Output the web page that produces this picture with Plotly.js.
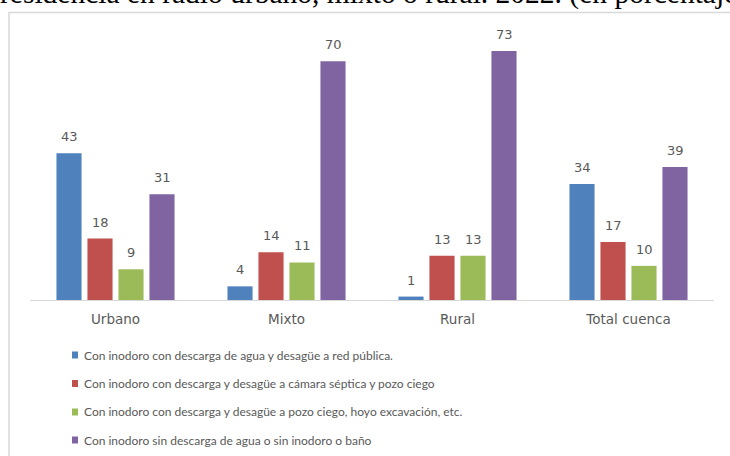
<!DOCTYPE html>
<html>
<head>
<meta charset="utf-8">
<script src="https://cdn.plot.ly/plotly-3.0.1.min.js"></script>
<style>html,body{margin:0;padding:0;background:#fff;}#chart{width:730px;height:456px;}</style>
</head>
<body>
<div id="chart"></div>
<script>
const categories = ['Urbano', 'Mixto', 'Rural', 'Total cuenca'];
const seriesNames = [
  'Con inodoro con descarga de agua y desagüe a red pública.',
  'Con inodoro con descarga y desagüe a cámara séptica y pozo ciego',
  'Con inodoro con descarga y desagüe a pozo ciego, hoyo excavación, etc.',
  'Con inodoro sin descarga de agua o sin inodoro o baño'
];
const redPublica = [43, 4, 1, 34];
const camaraSeptica = [18, 14, 13, 17];
const pozoCiego = [9, 11, 13, 10];
const sinDescarga = [31, 70, 73, 39];
const headerText = 'residencia en radio urbano, mixto o rural. 2022. (en porcentaje)';

const seriesValues = [redPublica, camaraSeptica, pozoCiego, sinDescarga];
const colors = ['#4F81BD', '#C0504D', '#9BBB59', '#8064A2'];

// layout geometry (pixels)
const W = 730, H = 456;
const mL = 30, mR = 16, mT = 27, mB = 156;
const plotW = W - mL - mR, plotH = H - mT - mB;
const px2x = p => (p - mL) / plotW;
const px2y = p => (H - mB - p) / plotH;
const barStep = 31;

const traces = seriesValues.map((vals, i) => ({
  type: 'bar',
  x: categories,
  y: vals,
  name: seriesNames[i],
  marker: {color: colors[i]},
  showlegend: false,
  hoverinfo: 'x+y'
}));

const annotations = [];
seriesValues.forEach((vals, i) => {
  vals.forEach((v, j) => {
    annotations.push({
      x: categories[j], y: v, xref: 'x', yref: 'y',
      xshift: (i - 1.5) * barStep, yshift: 16.5,
      text: String(v), showarrow: false,
      xanchor: 'center', yanchor: 'middle',
      font: {family: 'DejaVu Sans', size: 13, color: '#595959'}
    });
  });
});

// legend (manual, to match the original's compact swatches)
const shapes = [];
const legendRowY = [355, 383.5, 412, 440];
seriesNames.forEach((name, i) => {
  const cy = legendRowY[i];
  shapes.push({
    type: 'rect', xref: 'paper', yref: 'paper',
    x0: px2x(72), x1: px2x(78), y0: px2y(cy + 3.5), y1: px2y(cy - 3.5),
    fillcolor: colors[i], line: {width: 0}
  });
  annotations.push({
    x: px2x(82), y: px2y(cy), xref: 'paper', yref: 'paper',
    text: name, showarrow: false, xanchor: 'left', yanchor: 'middle',
    font: {family: 'Lato', size: 12, color: '#595959'}
  });
});

// outer chart frame
shapes.push({
  type: 'rect', xref: 'paper', yref: 'paper',
  x0: px2x(9), x1: px2x(760), y0: px2y(480), y1: px2y(12.5),
  line: {color: '#d9d9d9', width: 1.5}, fillcolor: 'rgba(0,0,0,0)', layer: 'below'
});

// cut-off header text of the source document (cut at the top edge, as in the original)
annotations.push({
  x: px2x(-2), y: px2y(12), xref: 'paper', yref: 'paper',
  text: headerText, showarrow: false, xanchor: 'left', yanchor: 'bottom',
  font: {family: 'Liberation Serif', size: 29.5, color: '#000'}
});

const layout = {
  width: W, height: H,
  margin: {l: mL, r: mR, t: mT, b: mB, pad: 0},
  paper_bgcolor: '#fff', plot_bgcolor: 'rgba(0,0,0,0)',
  barmode: 'group', bargap: 0.275, bargroupgap: 0.19,
  showlegend: false,
  xaxis: {
    type: 'category', range: [-0.5, 3.5],
    showline: true, linecolor: '#d9d9d9', linewidth: 1,
    ticks: '', showgrid: false, zeroline: false,
    tickfont: {family: 'DejaVu Sans', size: 13.5, color: '#595959'},
    ticklabelstandoff: 7
  },
  yaxis: {
    range: [0, 80], visible: false, showgrid: false, zeroline: false
  },
  shapes: shapes,
  annotations: annotations
};

Plotly.newPlot('chart', traces, layout, {displayModeBar: false, staticPlot: true});
</script>
</body>
</html>
